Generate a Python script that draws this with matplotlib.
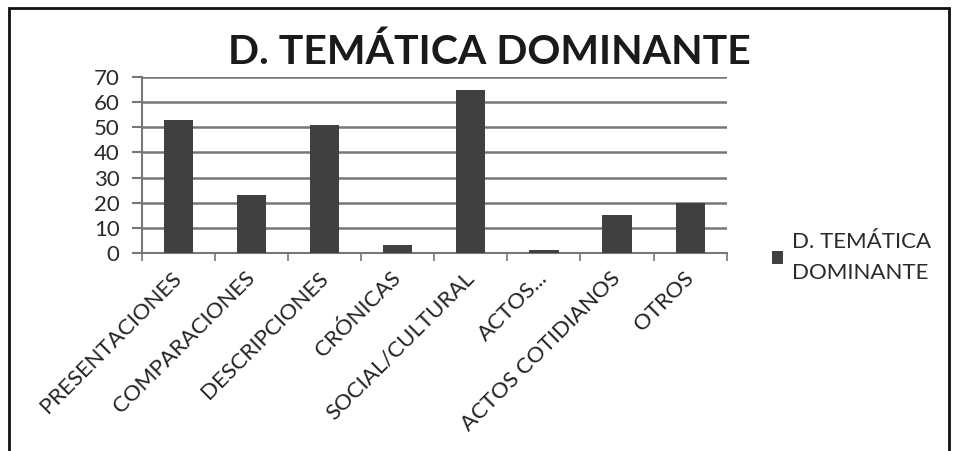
import matplotlib
matplotlib.use("Agg")
import matplotlib.pyplot as plt
from matplotlib.patches import Rectangle
import matplotlib.transforms as mtransforms

categories = ["PRESENTACIONES", "COMPARACIONES", "DESCRIPCIONES", "CRÓNICAS",
              "SOCIAL/CULTURAL", "ACTOS...", "ACTOS COTIDIANOS", "OTROS"]
values = [53, 23, 51, 3, 65, 1, 15, 20]
series_name = "D. TEMÁTICA\nDOMINANTE"
title = "D. TEMÁTICA DOMINANTE"
yticks = [0, 10, 20, 30, 40, 50, 60, 70]

plt.rcParams['font.family'] = ['Lato', 'DejaVu Sans']

fig = plt.figure(figsize=(9.6, 4.51), dpi=100)
ax = fig.add_axes([0.1476, 0.4397, 0.757 - 0.1476, 0.8286 - 0.4397])

x = list(range(len(categories)))
ax.bar(x, values, width=0.4, color="#404040", zorder=3, label=series_name)
ax.set_xlim(-0.5, len(categories) - 0.5)
ax.set_ylim(0, 70)
ax.set_yticks(yticks)
ax.set_yticklabels([str(v) for v in yticks], fontsize=16, color="#2a2a2a")
ax.yaxis.grid(True, color="#777777", linewidth=1.8, zorder=0)
ax.set_xticks([i - 0.5 for i in range(len(categories) + 1)])
ax.set_xticklabels([])
ax.set_xticks(x, minor=True)
ax.set_xticklabels(categories, minor=True, rotation=45, ha="right",
                   rotation_mode="anchor", fontsize=16, color="#222222")
ax.tick_params(axis="x", which="minor", length=0, pad=11)
ax.tick_params(axis="x", which="major", length=6, color="#777777", width=1.2)
ax.tick_params(axis="y", length=7, color="#777777", width=1.5, pad=9)
for s in ["top", "right"]:
    ax.spines[s].set_visible(False)
for s in ["left", "bottom"]:
    ax.spines[s].set_color("#777777")
    ax.spines[s].set_linewidth(1.5)
offset = mtransforms.ScaledTranslation(-5 / 72, 0, fig.dpi_scale_trans)
for lbl in ax.get_xticklabels(minor=True):
    lbl.set_transform(lbl.get_transform() + offset)

fig.text(0.51, 0.885, title, ha="center", va="center", fontsize=29.5,
         fontweight="bold", color="#1a1a1a")

leg = fig.legend(loc="upper left", bbox_to_anchor=(0.783, 0.53), frameon=False,
                 fontsize=16, handlelength=0.5, handleheight=0.5, handletextpad=0.4)
for t in leg.get_texts():
    t.set_color("#2a2a2a")
    t.set_linespacing(1.7)

fig.add_artist(Rectangle((0.009, -0.05), 0.98, 1.032, transform=fig.transFigure,
                         fill=False, edgecolor="#111111", linewidth=2))

fig.savefig("out.png", dpi=100)
